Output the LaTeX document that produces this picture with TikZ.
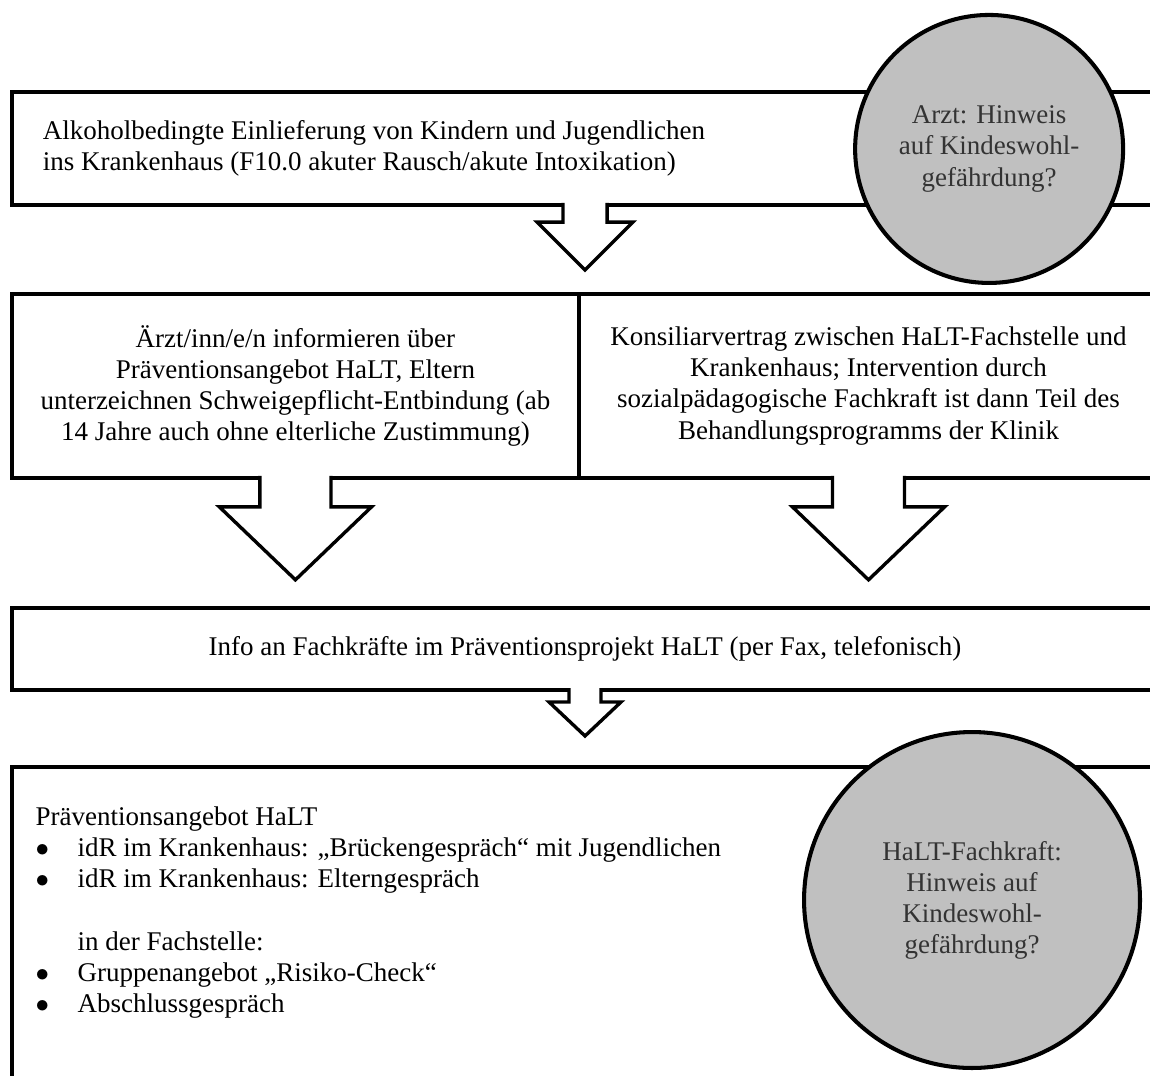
\documentclass[tikz,border=0pt]{standalone}
\usepackage{fontspec}
\setmainfont{Liberation Serif}
\usetikzlibrary{positioning}

\definecolor{kwgray}{HTML}{C0C0C0}

% hollow block arrow hanging from a box: top point, shaft half width, shaft length, head half width, head length
\newcommand{\blockarrow}[5]{%
  \fill[white] (#1) ++(-#2,-2.2) -- ++(0,#3+2.2) -- ++(#2-#4,0) -- ++(#4,#5) -- ++(#4,-#5) -- ++(#2-#4,0) -- ++(0,-#3-2.2) -- cycle;
  \draw[arrowline] (#1) ++(-#2,-0.9) -- ++(0,#3+0.9) -- ++(#2-#4,0) -- ++(#4,#5) -- ++(#4,-#5) -- ++(#2-#4,0) -- ++(0,-#3-0.9);
}

\begin{document}
\begin{tikzpicture}[x=1pt,y=-1pt,
		font=\fontsize{12}{13.8}\selectfont,
		box/.style={draw, rectangle, line width=1.8pt, inner sep=0pt, outer sep=0pt},
		flagnode/.style={circle, draw, line width=1.8pt, fill=kwgray, text=black!80, align=center},
		arrowline/.style={line width=1.5pt, miter limit=10}]
		\useasboundingbox (0,0) rectangle (511.1,477.8);

		%% Boxes
		\begin{scope}
			\node (arrival) at (5.3,40.9) [box, anchor=north west, minimum width=509.4pt, minimum height=50.2pt] {};
			\node (arrival_text) [right=10.2pt of arrival.west, align=left] {Alkoholbedingte Einlieferung von Kindern und Jugendlichen\\ins Krankenhaus (F10.0 akuter Rausch/akute Intoxikation)};

			\node (advice) [box, below=39.6pt of arrival.south west, anchor=north west, minimum width=252pt, minimum height=81.7pt, align=center] {Ärzt/inn/e/n informieren über\\Präventionsangebot HaLT, Eltern\\unterzeichnen Schweigepflicht-Entbindung (ab\\14 Jahre auch ohne elterliche Zustimmung)};
			\node (contract) [box, right=0pt of advice.east, minimum width=257.4pt, minimum height=81.7pt, align=center] {Konsiliarvertrag zwischen HaLT-Fachstelle und\\Krankenhaus; Intervention durch\\sozialpädagogische Fachkraft ist dann Teil des\\Behandlungsprogramms der Klinik};

			\node (info) [box, below=57.8pt of advice.south west, anchor=north west, minimum width=509.4pt, minimum height=36.5pt] {Info an Fachkräfte im Präventionsprojekt HaLT (per Fax, telefonisch)};

			\node (offer) [box, below=34.2pt of info.south west, anchor=north west, minimum width=509.4pt, minimum height=150pt] {};
			\node (offer_text) [below right=17.6pt and 10.3pt of offer.north west, anchor=north west, align=left, inner sep=0pt] {Präventionsangebot HaLT\\
				\makebox[18.7pt][l]{$\bullet$}idR im Krankenhaus: „Brückengespräch“ mit Jugendlichen\\
				\makebox[18.7pt][l]{$\bullet$}idR im Krankenhaus: Elterngespräch\\[13.8pt]
				\hspace*{18.7pt}in der Fachstelle:\\
				\makebox[18.7pt][l]{$\bullet$}Gruppenangebot „Risiko-Check“\\
				\makebox[18.7pt][l]{$\bullet$}Abschlussgespräch};
		\end{scope}

		%% Arrows
		\blockarrow{arrival.south}{9.8}{7.6}{21.3}{21.3}
		\blockarrow{advice.south}{15.8}{12.9}{33.8}{32.4}
		\blockarrow{contract.south}{16}{12.9}{33.8}{32.4}
		\blockarrow{info.south}{7.1}{5.3}{16}{15.1}

		%% Circles
		\node (doctor_flag) at (439.6,66.2) [flagnode, minimum size=119.1pt] {Arzt: Hinweis\\auf Kindeswohl-\\gefährdung?};
		\node (staff_flag) at (432,400) [flagnode, minimum size=149.3pt] {HaLT-Fachkraft:\\Hinweis auf\\Kindeswohl-\\gefährdung?};
	\end{tikzpicture}
\end{document}
